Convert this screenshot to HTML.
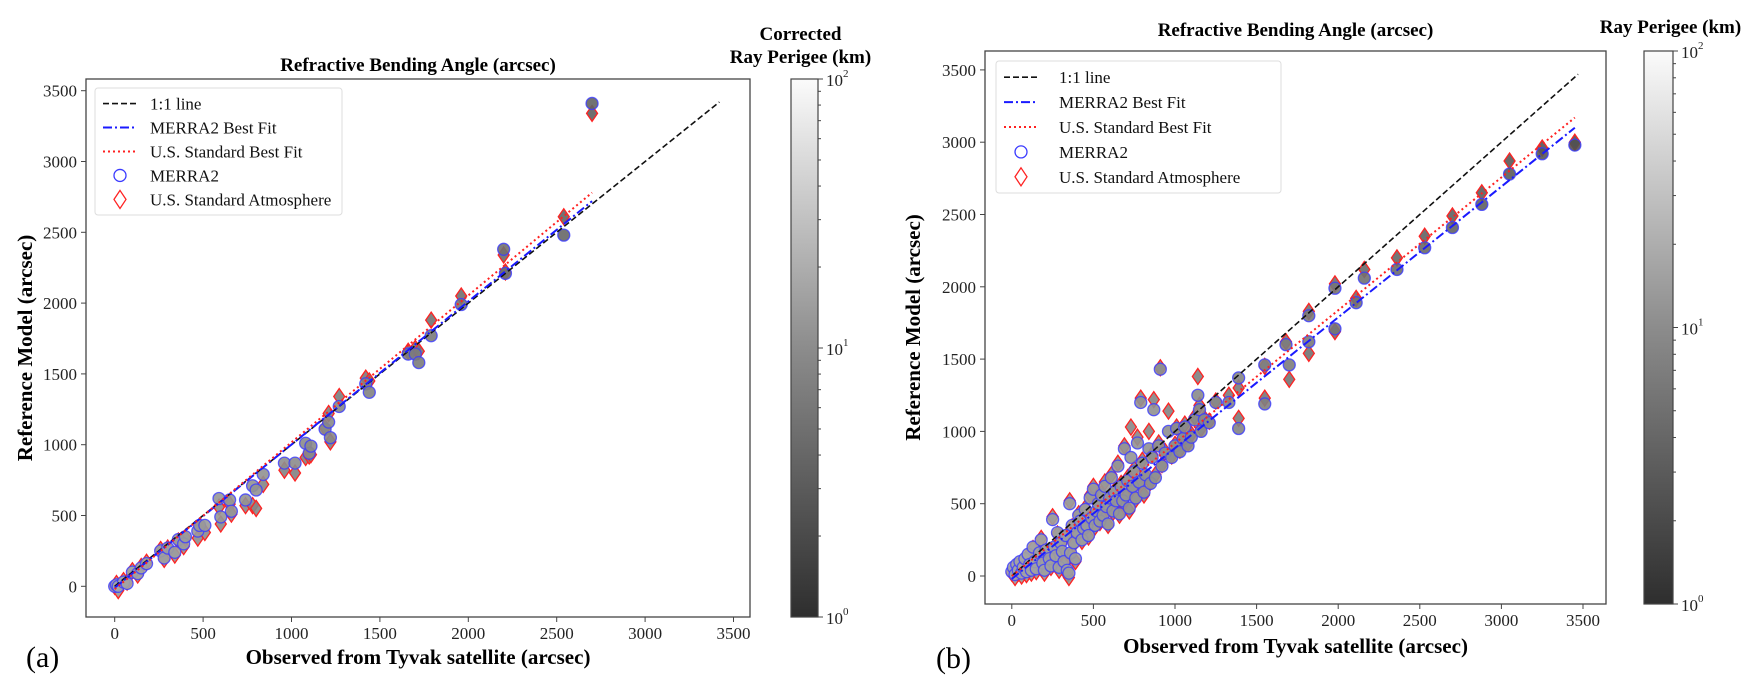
<!DOCTYPE html>
<html><head><meta charset="utf-8"><style>
html,body{margin:0;padding:0;background:#fff}
svg{display:block;font-family:"Liberation Serif",serif}
</style></head><body>
<svg id="fig" width="1758" height="685" viewBox="0 0 1758 685" xmlns="http://www.w3.org/2000/svg">
<defs>
<linearGradient id="cbg" x1="0" y1="1" x2="0" y2="0">
<stop offset="0" stop-color="#2e2e2e"/><stop offset="0.5" stop-color="#8c8c8c"/><stop offset="1" stop-color="#fbfbfb"/>
</linearGradient>
</defs>
<g id="panelA"></g>
<g id="panelB"></g>
</svg>
<script>
// ---------- Panel (a) data ----------
const aObs   = [0,10,20,50,70,100,130,150,180,260,280,300,340,360,390,400,470,480,510,590,600,650,660,740,780,800,840,960,1020,1080,1100,1110,1190,1210,1220,1270,1420,1440,1660,1700,1720,1790,1960,2200,2210,2540,2700];
const aMerra = [0,10,0,30,20,100,90,130,160,250,200,270,240,330,300,350,390,430,430,620,490,610,530,610,710,680,790,870,870,1010,940,990,1110,1160,1050,1270,1430,1370,1640,1640,1580,1770,1990,2380,2210,2480,3410];
const aUS    = [0,20,-30,40,30,110,80,140,170,260,190,270,220,320,280,340,340,420,380,560,440,580,510,570,570,550,720,820,800,910,920,930,1120,1220,1020,1340,1470,1450,1660,1680,1660,1880,2050,2340,2220,2610,3340];
const aFitX = [0,2700];
const aMerraFit = [-10,2720];
const aUSFit = [-20,2780];
const aOneX = [0,3420];
// ---------- Panel (b) data ----------
const bObs   = [0,10,20,30,40,50,60,70,80,90,100,110,120,130,140,150,170,180,190,200,210,230,240,250,260,270,280,290,300,310,320,330,340,350,355,360,370,380,390,400,410,420,430,440,450,460,470,480,490,500,510,520,530,540,550,560,570,580,590,600,610,620,630,640,650,660,670,680,690,700,710,720,730,740,750,760,770,780,790,800,810,820,840,850,860,870,880,900,910,920,940,960,980,1000,1010,1030,1050,1060,1080,1100,1120,1140,1150,1160,1180,1210,1250,1330,1390,1390,1550,1550,1680,1700,1820,1820,1980,1980,2110,2160,2360,2530,2700,2880,3050,3250,3450];
const bMerra = [30,60,10,80,40,100,20,60,120,30,150,80,40,200,100,50,160,250,90,40,180,120,70,390,200,140,300,60,230,170,100,280,40,20,500,160,350,230,120,300,420,380,250,330,460,350,280,540,400,600,350,450,500,380,560,420,620,480,360,540,680,450,580,520,760,430,620,520,880,560,660,470,820,620,720,540,920,650,1200,780,580,700,880,640,820,1150,680,900,1430,760,850,1000,820,900,1020,860,950,1030,900,960,1080,1250,1150,1000,1080,1060,1200,1200,1370,1020,1190,1460,1600,1460,1800,1620,1990,1710,1890,2060,2120,2270,2410,2570,2780,2920,2980];
const bUS    = [20,40,-10,60,20,80,0,40,100,10,140,60,20,190,80,30,150,260,70,20,170,110,60,410,190,120,290,40,220,160,80,270,10,-10,520,140,340,220,100,290,430,370,240,320,470,340,270,560,390,620,340,440,510,370,570,410,650,470,350,550,700,440,590,510,780,420,640,510,900,550,680,450,1030,610,740,530,960,640,1230,800,560,690,1000,650,840,1220,700,920,1440,770,860,1140,830,910,1030,870,960,1050,920,980,1100,1380,1180,1020,1090,1070,1210,1250,1300,1090,1230,1450,1620,1360,1830,1540,2020,1690,1920,2120,2200,2350,2490,2650,2870,2960,3000];
const bFitX = [0,3450];
const bMerraFit = [-20,3100];
const bUSFit = [0,3170];
const bOneX = [0,3470];
const ticks = [0,500,1000,1500,2000,2500,3000,3500];

const NS="http://www.w3.org/2000/svg";
function mk(tag, parent, attrs){const e=document.createElementNS(NS,tag);for(const k in attrs)e.setAttribute(k,attrs[k]);parent.appendChild(e);return e;}
function txt(parent, x, y, s, size, opts){const t=mk('text',parent,{x:x,y:y,'font-size':size,fill:'#000'});if(opts){for(const k in opts)t.setAttribute(k,opts[k]);}t.textContent=s;return t;}

function drawPanel(g, P, obs, mer, us, fitX, merFit, usFit, oneX){
  const sx=v=>P.x0+v*P.kx, sy=v=>P.y0-v*P.ky;
  const fr=mk('rect',g,{x:P.L,y:P.T,width:P.R-P.L,height:P.B-P.T,fill:'#fff',stroke:'#444','stroke-width':1.3});
  
  
  const xt=mk('g',g,{});  
  ticks.forEach(v=>{mk('line',xt,{x1:sx(v),x2:sx(v),y1:P.B,y2:P.B+5,stroke:'#444'});
    const t=txt(xt,sx(v),P.B+22,String(v),17,{'text-anchor':'middle',fill:'#222'});
     });
  const yt=mk('g',g,{});  
  ticks.forEach(v=>{mk('line',yt,{x1:P.L-5,x2:P.L,y1:sy(v),y2:sy(v),stroke:'#444'});
    const t=txt(yt,P.L-9,sy(v)+6,String(v),17,{'text-anchor':'end',fill:'#222'});
     });
  const pts=mk('g',g,{});  
  for(let i=0;i<obs.length;i++){
    const shade=Math.round(150-Math.min(obs[i],3500)/3500*70);
    const fill=`rgb(${shade},${shade},${shade})`;
    const cx=sx(obs[i]), cy=sy(us[i]);
    const d=mk('path',pts,{d:`M${cx},${cy-8} L${cx+5.5},${cy} L${cx},${cy+8} L${cx-5.5},${cy} Z`,fill:fill,stroke:'#f22','stroke-width':1.3,'fill-opacity':0.9});
     
  }
  for(let i=0;i<obs.length;i++){
    const shade=Math.round(165-Math.min(obs[i],3500)/3500*85);
    const c=mk('circle',pts,{cx:sx(obs[i]),cy:sy(mer[i]),r:6,fill:`rgb(${shade},${shade},${shade})`,stroke:'#3b3bff','stroke-width':1.3,'stroke-opacity':0.8,'fill-opacity':0.9});
     
  }
  const l1=mk('line',g,{x1:sx(oneX[0]),y1:sy(oneX[0]),x2:sx(oneX[1]),y2:sy(oneX[1]),stroke:'#111','stroke-width':1.6,'stroke-dasharray':'6,3'});
   
  const l2=mk('line',g,{x1:sx(fitX[0]),y1:sy(merFit[0]),x2:sx(fitX[1]),y2:sy(merFit[1]),stroke:'#1a1aff','stroke-width':2,'stroke-dasharray':'9,3,2,3'});
   
  const l3=mk('line',g,{x1:sx(fitX[0]),y1:sy(usFit[0]),x2:sx(fitX[1]),y2:sy(usFit[1]),stroke:'#ff2020','stroke-width':2,'stroke-dasharray':'2,3'});
   
  const lg=mk('g',g,{});  
  mk('rect',lg,{x:P.lgx,y:P.lgy,width:P.lgw,height:P.lgh,rx:3,fill:'#fff','fill-opacity':0.85,stroke:'#ddd'});
  const names=['1:1 line','MERRA2 Best Fit','U.S. Standard Best Fit','MERRA2','U.S. Standard Atmosphere'];
  const step=P.lgh/5.3;
  names.forEach((n,i)=>{
    const y=P.lgy+step*(i+0.65), x=P.lgx+8;
    const e=mk('g',lg,{});  
    if(i===0) mk('line',e,{x1:x,x2:x+34,y1:y,y2:y,stroke:'#111','stroke-width':1.6,'stroke-dasharray':'6,3'});
    if(i===1) mk('line',e,{x1:x,x2:x+34,y1:y,y2:y,stroke:'#1a1aff','stroke-width':2,'stroke-dasharray':'9,3,2,3'});
    if(i===2) mk('line',e,{x1:x,x2:x+34,y1:y,y2:y,stroke:'#ff2020','stroke-width':2,'stroke-dasharray':'2,3'});
    if(i===3) mk('circle',e,{cx:x+17,cy:y,r:6,fill:'none',stroke:'#3b3bff','stroke-width':1.3});
    if(i===4) mk('path',e,{d:`M${x+17},${y-9} L${x+23},${y} L${x+17},${y+9} L${x+11},${y} Z`,fill:'none',stroke:'#f22','stroke-width':1.3});
    txt(e,P.lgx+P.lgtx,y+6,n,17,{fill:'#111'});
  });
  const t1=txt(g,(P.L+P.R)/2,P.titleY,'Refractive Bending Angle (arcsec)',19,{'text-anchor':'middle','font-weight':'bold'});
   
  const xl=txt(g,(P.L+P.R)/2,P.xlY,'Observed from Tyvak satellite (arcsec)',21,{'text-anchor':'middle','font-weight':'bold'});
   
  const yl=txt(g,0,0,'Reference Model (arcsec)',21,{'text-anchor':'middle','font-weight':'bold',transform:`translate(${P.ylX},${(P.T+P.B)/2}) rotate(-90)`});
   
  const pl=txt(g,P.tagX,P.tagY,P.tag,30,{});
   
  const cb=mk('g',g,{});  
  mk('rect',cb,{x:P.cbL,y:P.cbT,width:P.cbW,height:P.cbB-P.cbT,fill:'url(#cbg)',stroke:'#444','stroke-width':1.2});
  const H=P.cbB-P.cbT;
  [0,1,2].forEach(k=>{const y=P.cbB-k*H/2;
    mk('line',cb,{x1:P.cbL+P.cbW,x2:P.cbL+P.cbW+5,y1:y,y2:y,stroke:'#444'});
    const t=mk('text',cb,{x:P.cbL+P.cbW+8,y:y+7,'font-size':17,fill:'#222'});
    t.textContent='10'; const s=mk('tspan',t,{'font-size':11,dy:-9}); s.textContent=String(k);
     
    if(k<2){for(let m=2;m<=9;m++){const yy=y-Math.log10(m)*H/2;mk('line',cb,{x1:P.cbL+P.cbW,x2:P.cbL+P.cbW+3,y1:yy,y2:yy,stroke:'#444'});}}
  });
  P.cbTitle.forEach((s,i)=>{const t=txt(cb,P.cbL+P.cbW/2+P.cbTdx,P.cbTY+i*23,s,19,{'text-anchor':'middle','font-weight':'bold'});
     });
}

drawPanel(document.getElementById('panelA'),
 {L:86,R:750,T:79,B:617,x0:114.7,kx:88.4/500,y0:586.3,ky:70.8/500,
  lgx:95,lgy:88,lgw:247,lgh:127,lgtx:55,titleY:71,xlY:664,ylX:32,tagX:26,tagY:667,tag:'(a)',
  cbL:791,cbT:79,cbB:617,cbW:27,cbTitle:['Corrected','Ray Perigee (km)'],cbTY:40,cbTdx:-4},
 aObs,aMerra,aUS,aFitX,aMerraFit,aUSFit,aOneX);
drawPanel(document.getElementById('panelB'),
 {L:985,R:1606,T:51,B:604,x0:1011.8,kx:81.6/500,y0:576,ky:72.3/500,
  lgx:996,lgy:61,lgw:285,lgh:132,lgtx:63,titleY:36,xlY:653,ylX:920,tagX:936,tagY:668,tag:'(b)',
  cbL:1644,cbT:51,cbB:604,cbW:29,cbTitle:['Ray Perigee (km)'],cbTY:33,cbTdx:12},
 bObs,bMerra,bUS,bFitX,bMerraFit,bUSFit,bOneX);
</script>
</body></html>
